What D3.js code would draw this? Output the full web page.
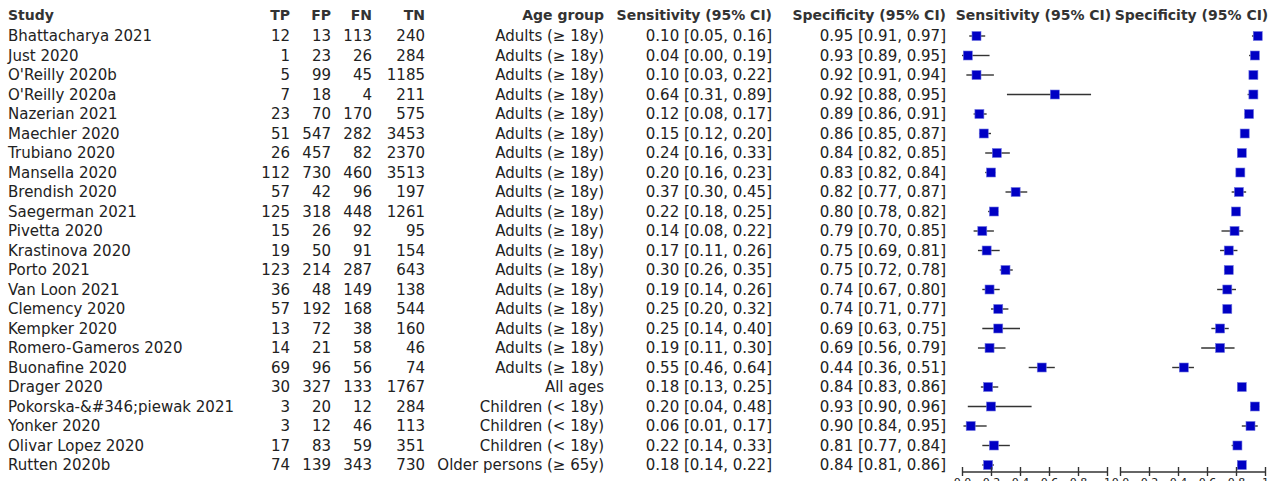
<!DOCTYPE html>
<html>
<head>
<meta charset="utf-8">
<script src="https://cdn.jsdelivr.net/npm/d3@7"></script>
<style>
  body { margin: 0; background: #fff; }
  text { font-family: "DejaVu Sans", sans-serif; font-size: 15px; fill: #222; }
  .hdr { font-weight: bold; font-size: 14px; fill: #333; }
  .axis text { font-size: 11px; }
</style>
</head>
<body>
<svg id="chart" width="1283" height="481"></svg>
<script>
var studies = ["Bhattacharya 2021", "Just 2020", "O'Reilly 2020b", "O'Reilly 2020a", "Nazerian 2021",
  "Maechler 2020", "Trubiano 2020", "Mansella 2020", "Brendish 2020", "Saegerman 2021", "Pivetta 2020",
  "Krastinova 2020", "Porto 2021", "Van Loon 2021", "Clemency 2020", "Kempker 2020", "Romero-Gameros 2020",
  "Buonafine 2020", "Drager 2020", "Pokorska-&#346;piewak 2021", "Yonker 2020", "Olivar Lopez 2020", "Rutten 2020b"];
var tp = [12, 1, 5, 7, 23, 51, 26, 112, 57, 125, 15, 19, 123, 36, 57, 13, 14, 69, 30, 3, 3, 17, 74];
var fp = [13, 23, 99, 18, 70, 547, 457, 730, 42, 318, 26, 50, 214, 48, 192, 72, 21, 96, 327, 20, 12, 83, 139];
var fn = [113, 26, 45, 4, 170, 282, 82, 460, 96, 448, 92, 91, 287, 149, 168, 38, 58, 56, 133, 12, 46, 59, 343];
var tn = [240, 284, 1185, 211, 575, 3453, 2370, 3513, 197, 1261, 95, 154, 643, 138, 544, 160, 46, 74, 1767, 284, 113, 351, 730];
var adults = "Adults (\u2265 18y)", kids = "Children (< 18y)";
var ageGroup = [adults, adults, adults, adults, adults, adults, adults, adults, adults, adults, adults, adults,
  adults, adults, adults, adults, adults, adults, "All ages", kids, kids, kids, "Older persons (\u2265 65y)"];
var sens   = [0.10, 0.04, 0.10, 0.64, 0.12, 0.15, 0.24, 0.20, 0.37, 0.22, 0.14, 0.17, 0.30, 0.19, 0.25, 0.25, 0.19, 0.55, 0.18, 0.20, 0.06, 0.22, 0.18];
var sensLo = [0.05, 0.00, 0.03, 0.31, 0.08, 0.12, 0.16, 0.16, 0.30, 0.18, 0.08, 0.11, 0.26, 0.14, 0.20, 0.14, 0.11, 0.46, 0.13, 0.04, 0.01, 0.14, 0.14];
var sensHi = [0.16, 0.19, 0.22, 0.89, 0.17, 0.20, 0.33, 0.23, 0.45, 0.25, 0.22, 0.26, 0.35, 0.26, 0.32, 0.40, 0.30, 0.64, 0.25, 0.48, 0.17, 0.33, 0.22];
var spec   = [0.95, 0.93, 0.92, 0.92, 0.89, 0.86, 0.84, 0.83, 0.82, 0.80, 0.79, 0.75, 0.75, 0.74, 0.74, 0.69, 0.69, 0.44, 0.84, 0.93, 0.90, 0.81, 0.84];
var specLo = [0.91, 0.89, 0.91, 0.88, 0.86, 0.85, 0.82, 0.82, 0.77, 0.78, 0.70, 0.69, 0.72, 0.67, 0.71, 0.63, 0.56, 0.36, 0.83, 0.90, 0.84, 0.77, 0.81];
var specHi = [0.97, 0.95, 0.94, 0.95, 0.91, 0.87, 0.85, 0.84, 0.87, 0.82, 0.85, 0.81, 0.78, 0.80, 0.77, 0.75, 0.79, 0.51, 0.86, 0.96, 0.95, 0.84, 0.86];
var axisTicks = [0, 0.2, 0.4, 0.6, 0.8, 1];

var svg = d3.select('#chart');

var rows = studies.map(function(s, i) {
  return {study: s, tp: tp[i], fp: fp[i], fn: fn[i], tn: tn[i], age: ageGroup[i],
    sens: sens[i], sensLo: sensLo[i], sensHi: sensHi[i], spec: spec[i], specLo: specLo[i], specHi: specHi[i]};
});

var yScale = d3.scalePoint().domain(d3.range(rows.length)).range([36, 465]);
var headerY = 15;
var f2 = d3.format('.2f');

// text columns: [header, accessor, x, anchor]
var cols = [
  ['Study', function(d) { return d.study; }, 8, 'start'],
  ['TP', function(d) { return d.tp; }, 290, 'end'],
  ['FP', function(d) { return d.fp; }, 331, 'end'],
  ['FN', function(d) { return d.fn; }, 372, 'end'],
  ['TN', function(d) { return d.tn; }, 425, 'end'],
  ['Age group', function(d) { return d.age; }, 604, 'end'],
  ['Sensitivity (95% CI)', function(d) { return f2(d.sens) + ' [' + f2(d.sensLo) + ', ' + f2(d.sensHi) + ']'; }, 772, 'end'],
  ['Specificity (95% CI)', function(d) { return f2(d.spec) + ' [' + f2(d.specLo) + ', ' + f2(d.specHi) + ']'; }, 946, 'end']
];

cols.forEach(function(c) {
  svg.append('text').attr('class', 'hdr')
    .attr('x', c[2]).attr('y', headerY).attr('dy', '0.35em')
    .attr('text-anchor', c[3]).text(c[0]);
  svg.append('g').selectAll('text')
    .data(rows).enter().append('text')
    .attr('x', c[2])
    .attr('y', function(d, i) { return yScale(i); })
    .attr('dy', '0.35em')
    .attr('text-anchor', c[3])
    .text(c[1]);
});

// forest panels
var panels = [
  {title: 'Sensitivity (95% CI)', x0: 962, x1: 1107, est: 'sens', lo: 'sensLo', hi: 'sensHi'},
  {title: 'Specificity (95% CI)', x0: 1120, x1: 1265, est: 'spec', lo: 'specLo', hi: 'specHi'}
];
var axisY = 472;
var sq = 9;

panels.forEach(function(p) {
  var x = d3.scaleLinear().domain([0, 1]).range([p.x0, p.x1]);
  svg.append('text').attr('class', 'hdr')
    .attr('x', (p.x0 + p.x1) / 2 - 1).attr('y', headerY).attr('dy', '0.35em')
    .attr('text-anchor', 'middle').text(p.title);

  var g = svg.append('g');
  g.selectAll('line.ci')
    .data(rows).enter().append('line')
    .attr('class', 'ci')
    .attr('x1', function(d) { return x(d[p.lo]); })
    .attr('x2', function(d) { return x(d[p.hi]); })
    .attr('y1', function(d, i) { return yScale(i); })
    .attr('y2', function(d, i) { return yScale(i); })
    .attr('stroke', '#333').attr('stroke-width', 1.4);
  g.selectAll('rect')
    .data(rows).enter().append('rect')
    .attr('x', function(d) { return x(d[p.est]) - sq / 2; })
    .attr('y', function(d, i) { return yScale(i) - sq / 2; })
    .attr('width', sq).attr('height', sq)
    .attr('fill', '#0000c4')
    .attr('stroke', '#6f74e0').attr('stroke-width', 0.6);

  var axis = d3.axisBottom(x).tickValues(axisTicks)
    .tickSize(4).tickPadding(2)
    .tickFormat(function(d) { return d === 1 ? '1' : d.toFixed(1); });
  var ax = svg.append('g').attr('class', 'axis')
    .attr('transform', 'translate(0,' + axisY + ')')
    .call(axis);
  ax.select('.domain').attr('d', 'M' + p.x0 + ',0H' + p.x1).attr('stroke', '#333').attr('stroke-width', 1.4);
  ax.selectAll('.tick line').attr('y1', -5).attr('y2', 4).attr('stroke', '#333').attr('stroke-width', 1.4);
  ax.selectAll('.tick text').attr('fill', '#222');
});
</script>
</body>
</html>
